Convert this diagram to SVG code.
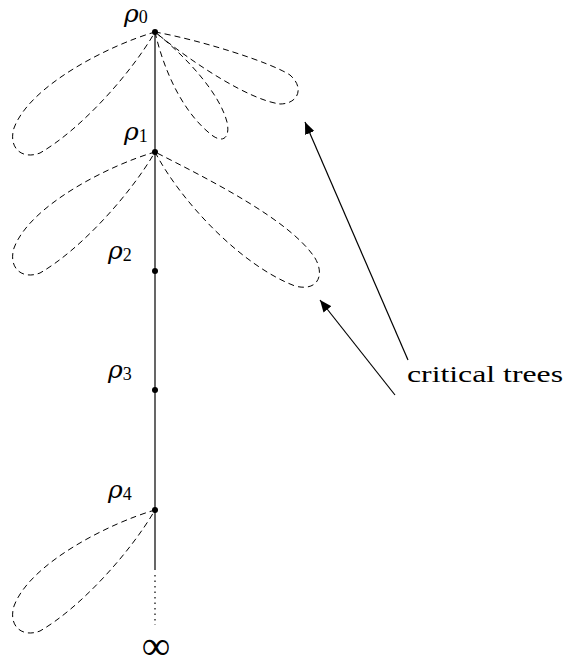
<svg xmlns="http://www.w3.org/2000/svg" width="566" height="667" viewBox="0 0 566 667">
<style>
.loop{fill:none;stroke:#000;stroke-width:1;stroke-dasharray:6,4}
.edge{fill:none;stroke:#000;stroke-width:1.2}
.lbl{font-family:"Liberation Serif",serif;fill:#000}
.rho{font-family:"DejaVu Serif",serif;font-style:italic;font-size:25px}
.sub{font-family:"Liberation Serif",serif;font-style:normal;font-size:18px}
</style>
<defs>
<marker id="ah" viewBox="0 0 12 10" refX="12" refY="5" markerWidth="12" markerHeight="10" markerUnits="userSpaceOnUse" orient="auto">
<path d="M0,0 L12,5 L0,10 Z" fill="#000"/>
</marker>
<path id="leftLoop" d="M155,32 C110,45 30,85 14,128 C8,148 22,160 40,153 C80,130 130,75 155,32 Z"/>
</defs>
<rect width="566" height="667" fill="#fff"/>
<g id="connectors">
<line class="edge" x1="155" y1="32" x2="155" y2="570"/>
<line x1="155" y1="575" x2="155" y2="625" stroke="#000" stroke-width="1.2" stroke-dasharray="1.5,4"/>
<line class="edge" x1="408" y1="360" x2="305" y2="122" marker-end="url(#ah)"/>
<line class="edge" x1="395" y1="395" x2="320" y2="300" marker-end="url(#ah)"/>
</g>
<g id="trees">
<use href="#leftLoop" class="loop"/>
<path class="loop" d="M155,32 C165,75 185,115 213,136 C225,144 230,135 227,122 C220,95 190,60 155,32 Z"/>
<path class="loop" d="M155,32 C200,40 270,62 290,75 C305,88 298,104 280,104 C250,100 195,65 155,32 Z"/>
<use href="#leftLoop" class="loop" transform="translate(0,120)"/>
<path class="loop" d="M155,152 C180,200 240,265 295,286 C318,292 325,275 315,258 C290,220 210,180 155,152 Z"/>
<use href="#leftLoop" class="loop" transform="translate(0,478)"/>
</g>
<g id="rho0"><circle cx="155" cy="32" r="3"/><text class="lbl rho" x="124" y="22">ρ<tspan class="sub" dy="1">0</tspan></text></g>
<g id="rho1"><circle cx="155" cy="152" r="3"/><text class="lbl rho" x="124" y="140">ρ<tspan class="sub" dy="2">1</tspan></text></g>
<g id="rho2"><circle cx="155" cy="271" r="3"/><text class="lbl rho" x="108" y="259">ρ<tspan class="sub" dy="2">2</tspan></text></g>
<g id="rho3"><circle cx="155" cy="390" r="3"/><text class="lbl rho" x="108" y="378">ρ<tspan class="sub" dy="2">3</tspan></text></g>
<g id="rho4"><circle cx="155" cy="510" r="3"/><text class="lbl rho" x="108" y="498">ρ<tspan class="sub" dy="2">4</tspan></text></g>
<g id="infinity"><text class="lbl" x="156" y="659" font-size="40" text-anchor="middle">∞</text></g>
<g id="critical"><text class="lbl" x="407" y="382" font-size="24" textLength="156" lengthAdjust="spacingAndGlyphs">critical trees</text></g>
</svg>
